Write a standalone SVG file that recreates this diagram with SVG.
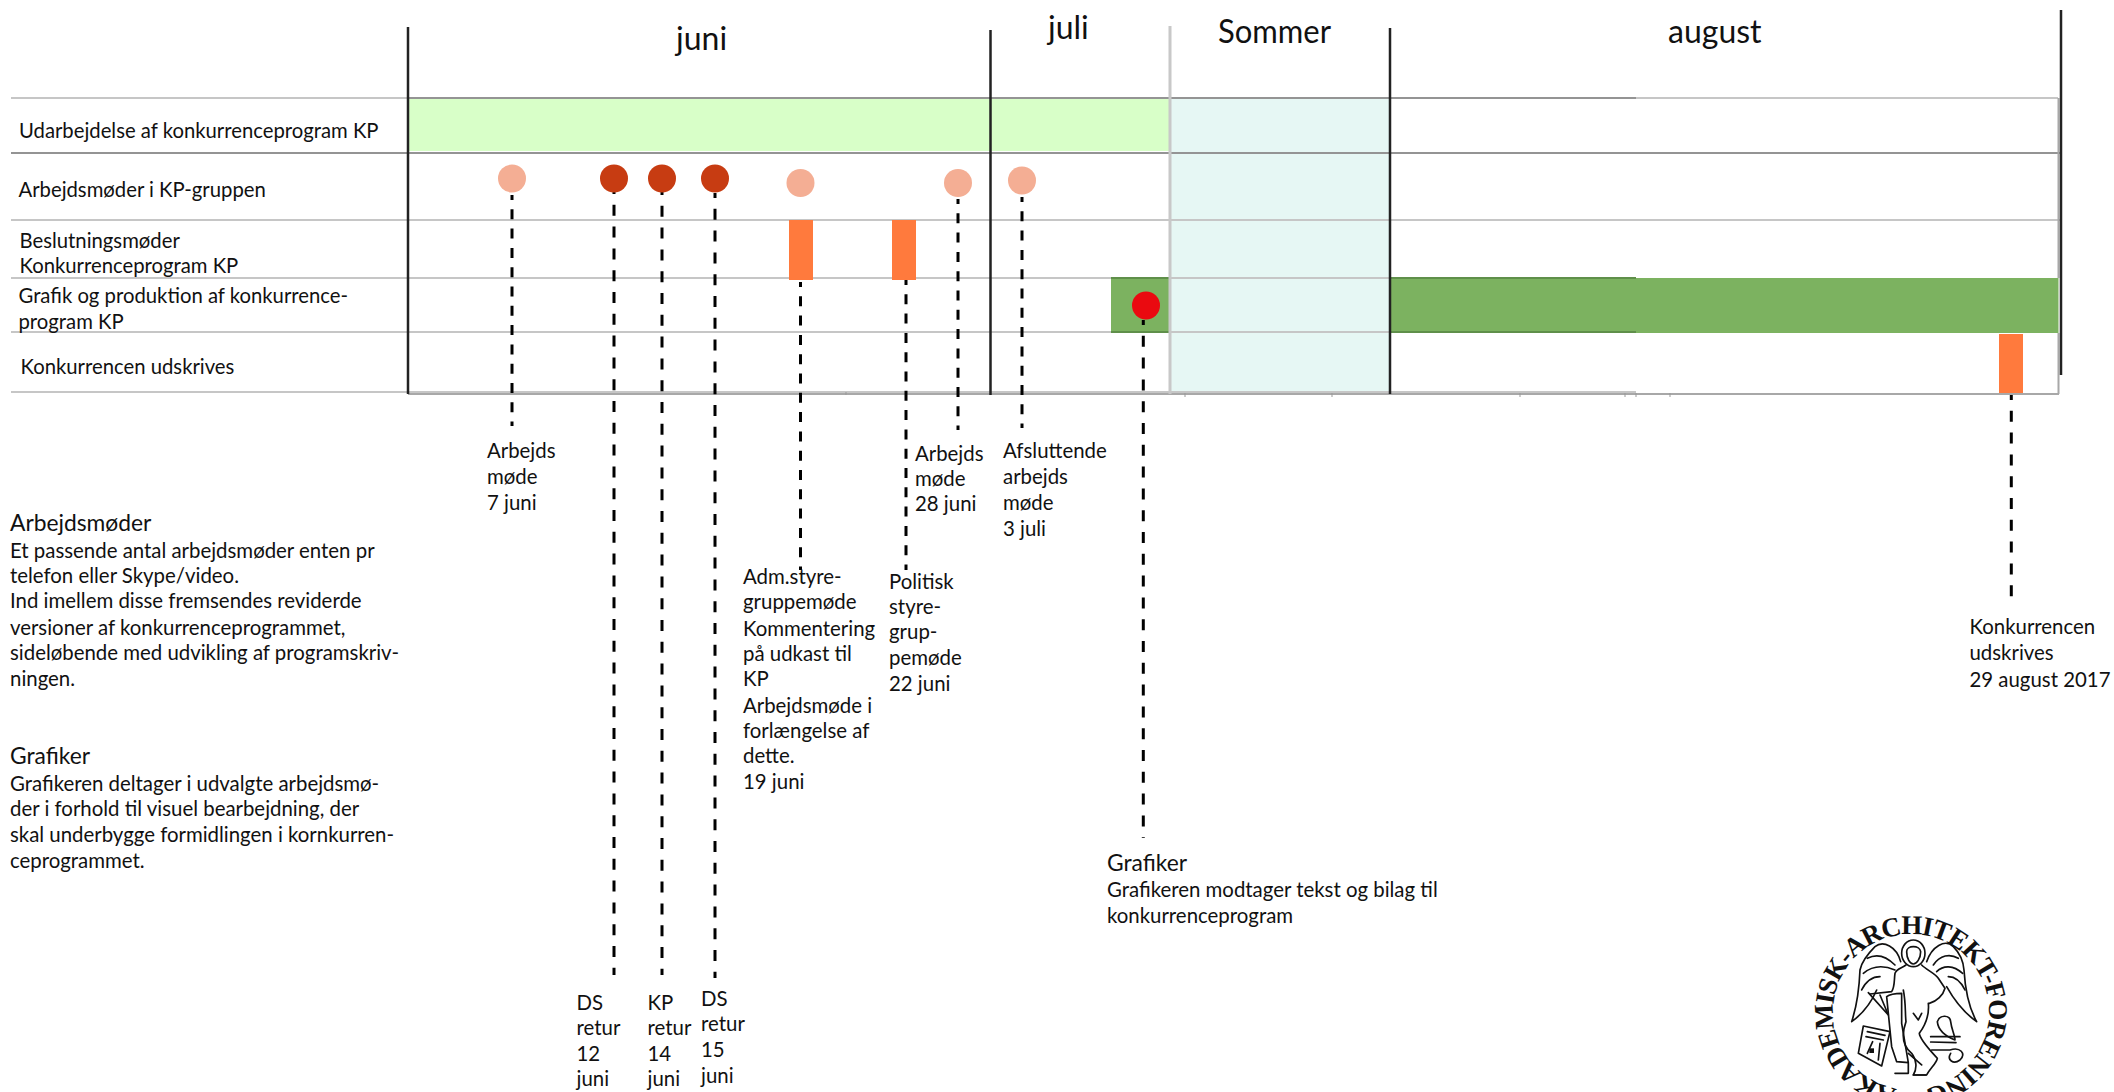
<svg xmlns="http://www.w3.org/2000/svg" width="2114" height="1092" viewBox="0 0 2114 1092">
<style>
text{font-family:"Lato","Noto Sans",sans-serif;fill:#111}
.month{font-size:32px}
.row{font-size:20.3px}
.b{font-size:20.4px}
.h{font-size:22.8px}
.hd{stroke:#949494;stroke-width:2;fill:none}
.hl{stroke:#c6c6c6;stroke-width:2;fill:none}
.v{stroke:#222;stroke-width:2.5;fill:none}
.dash{stroke:#000;stroke-width:3;stroke-dasharray:11 10.8;stroke-dashoffset:6;fill:none}
.dsh{stroke:#000;stroke-width:3;stroke-dasharray:10 9.3;stroke-dashoffset:5;fill:none}
.lt{fill:#f4ae94}.dk{fill:#c73c12}.or{fill:#ff7a3d}
.lg{fill:none;stroke:#111;stroke-width:5;stroke-linejoin:round;stroke-linecap:round}
</style>
<rect width="2114" height="1092" fill="#fff"/>
<g id="bars">
<rect x="408" y="98" width="762" height="53" fill="#d8ffc8"/>
<rect x="1170" y="98" width="220" height="295" fill="#e6f7f4"/>
<rect x="1111" y="278" width="59" height="54" fill="#7cb260"/>
<rect x="1390" y="278" width="668.500" height="55" fill="#7cb260"/>
</g>
<g id="grid">
<path class="hd" d="M408 98H1636M11 153H2060"/>
<path class="hl" d="M11 98H408M1636 98H2058M11 220H2060M11 278H1111M1170 278H1390M11 332H1111M1170 332H1390M11 392H1636"/>
<path d="M1111 278H1170M1390 278H1636M1111 332H1170M1390 332H1636" stroke="#5f8f4a" stroke-width="2" fill="none"/>
<path d="M408 394H2059M2058.500 98V278M2058.500 333V394" stroke="#a8a8a8" stroke-width="2" fill="none"/>
<path d="M846 392V395M1185 393V397M1332 393V397M1520 393V397M1625 393V397M1636 393V397M1670 393V397" stroke="#999" stroke-width="1" fill="none"/>
<path d="M1170 26V394" stroke="#c8c8c8" stroke-width="3" fill="none"/>
<path class="v" d="M408 27V394M990.500 30V395M1390 28V394M2061 10V375"/>
</g>
<g id="connectors">
<path class="dsh" d="M512 195V426"/>
<path class="dash" d="M614 189V975"/>
<path class="dash" d="M662 190V975"/>
<path class="dash" d="M715 193V978"/>
<path class="dsh" d="M800.500 282V570"/>
<path class="dsh" d="M906 280V570"/>
<path class="dsh" d="M958 199V430"/>
<path class="dsh" d="M1022 197V428"/>
<path class="dash" d="M1143.300 320V838"/>
<path class="dash" d="M2011.300 395V597"/>
</g>
<g id="months">
<text class="month" x="676" y="50">juni</text>
<text class="month" x="1048" y="39">juli</text>
<text class="month" x="1218" y="43" textLength="113" lengthAdjust="spacingAndGlyphs">Sommer</text>
<text class="month" x="1668" y="43">august</text>
</g>
<g id="row-labels">
<text class="row" x="19" y="138">Udarbejdelse af konkurrenceprogram KP</text>
<text class="row" x="18.500" y="197">Arbejdsmøder i KP-gruppen</text>
<text class="row" x="19.500" y="248">Beslutningsmøder</text>
<text class="row" x="19.500" y="273">Konkurrenceprogram KP</text>
<text class="row" x="18.500" y="303">Grafik og produktion af konkurrence-</text>
<text class="row" x="18.500" y="329">program KP</text>
<text class="row" x="20.500" y="374">Konkurrencen udskrives</text>
</g>
<g id="meeting-7-juni"><circle class="lt" cx="512" cy="178.500" r="14"/><text class="b"><tspan x="487" y="458">Arbejds</tspan><tspan x="487" y="484">møde</tspan><tspan x="487" y="510">7 juni</tspan></text></g>
<g id="ds-12-juni"><circle class="dk" cx="614" cy="178.500" r="14"/><text class="b"><tspan x="576.500" y="1010">DS</tspan><tspan x="576.500" y="1035">retur</tspan><tspan x="576.500" y="1061">12</tspan><tspan x="576.500" y="1086">juni</tspan></text></g>
<g id="kp-14-juni"><circle class="dk" cx="662" cy="178.500" r="14"/><text class="b"><tspan x="647.500" y="1010">KP</tspan><tspan x="647.500" y="1035">retur</tspan><tspan x="647.500" y="1061">14</tspan><tspan x="647.500" y="1086">juni</tspan></text></g>
<g id="ds-15-juni"><circle class="dk" cx="715" cy="178.500" r="14"/><text class="b"><tspan x="701" y="1006">DS</tspan><tspan x="701" y="1031">retur</tspan><tspan x="701" y="1057">15</tspan><tspan x="701" y="1083">juni</tspan></text></g>
<g id="adm-19-juni"><circle class="lt" cx="800.500" cy="183" r="14"/><rect class="or" x="789" y="220" width="24" height="60"/><text class="b"><tspan x="743" y="584">Adm.styre-</tspan><tspan x="743" y="609">gruppemøde</tspan><tspan x="743" y="636">Kommentering</tspan><tspan x="743" y="661">på udkast til</tspan><tspan x="743" y="686">KP</tspan><tspan x="743" y="713">Arbejdsmøde i</tspan><tspan x="743" y="738">forlængelse af</tspan><tspan x="743" y="763">dette.</tspan><tspan x="743" y="789">19 juni</tspan></text></g>
<g id="politisk-22-juni"><rect class="or" x="892" y="220" width="24" height="60"/><text class="b"><tspan x="889" y="589">Politisk</tspan><tspan x="889" y="614">styre-</tspan><tspan x="889" y="639">grup-</tspan><tspan x="889" y="665">pemøde</tspan><tspan x="889" y="691">22 juni</tspan></text></g>
<g id="meeting-28-juni"><circle class="lt" cx="958" cy="183" r="14"/><text class="b"><tspan x="915" y="461">Arbejds</tspan><tspan x="915" y="486">møde</tspan><tspan x="915" y="511">28 juni</tspan></text></g>
<g id="meeting-3-juli"><circle class="lt" cx="1022" cy="180.500" r="14"/><text class="b"><tspan x="1003" y="458">Afsluttende</tspan><tspan x="1003" y="484">arbejds</tspan><tspan x="1003" y="510">møde</tspan><tspan x="1003" y="536">3 juli</tspan></text></g>
<g id="grafiker-note"><circle cx="1146" cy="305.500" r="14" fill="#ea0a10"/><text class="h" x="1107" y="871">Grafiker</text><text class="b"><tspan x="1107" y="897">Grafikeren modtager tekst og bilag til</tspan><tspan x="1107" y="923">konkurrenceprogram</tspan></text></g>
<g id="udskrives-29-august"><rect class="or" x="1999" y="334" width="24" height="59"/><text class="b"><tspan x="1969.500" y="634">Konkurrencen</tspan><tspan x="1969.500" y="660">udskrives</tspan><tspan x="1969.500" y="687">29 august 2017</tspan></text></g>
<g id="arbejdsmoeder-text"><text class="h" x="10" y="531">Arbejdsmøder</text><text class="b"><tspan x="10" y="558">Et passende antal arbejdsmøder enten pr</tspan><tspan x="10" y="583">telefon eller Skype/video.</tspan><tspan x="10" y="608">Ind imellem disse fremsendes reviderde</tspan><tspan x="10" y="635">versioner af konkurrenceprogrammet,</tspan><tspan x="10" y="660">sideløbende med udvikling af programskriv-</tspan><tspan x="10" y="686">ningen.</tspan></text></g>
<g id="grafiker-text"><text class="h" x="10" y="764">Grafiker</text><text class="b"><tspan x="10" y="791">Grafikeren deltager i udvalgte arbejdsmø-</tspan><tspan x="10" y="816">der i forhold til visuel bearbejdning,  der</tspan><tspan x="10" y="842">skal underbygge formidlingen i kornkurren-</tspan><tspan x="10" y="868">ceprogrammet.</tspan></text></g>
<g id="logo">
<defs><path id="ring" d="M1911 1090A78 78 0 0 1 1911 934A78 78 0 0 1 1911 1090"/></defs>
<text style="font-family:'Liberation Serif',serif;font-size:27px;font-weight:bold"><textPath href="#ring" startOffset="14" textLength="462">AKADEMISK-ARCHITEKT-FORENING</textPath></text>
<g transform="translate(1780 890) scale(.3333)">
<ellipse class="lg" cx="400" cy="190" rx="35" ry="40"/>
<path class="lg" d="M380 185C380 165 420 165 422 185C422 205 410 222 400 222C390 222 380 205 380 185Z"/>
<path class="lg" d="M362 215C350 170 310 150 285 170C265 190 245 215 240 240C238 290 230 350 215 395C250 370 275 335 290 300"/>
<path class="lg" d="M262 205C290 190 320 200 345 225M250 250C280 225 310 225 345 240M245 300C260 270 280 260 300 260"/>
<path class="lg" d="M440 215C455 170 495 145 520 170C540 190 550 215 552 240C555 290 565 350 590 395C555 370 525 335 500 290"/>
<path class="lg" d="M535 205C510 190 480 195 460 225M548 250C520 225 490 225 470 245M555 300C540 270 520 260 505 260"/>
<path class="lg" d="M378 225C365 235 350 235 345 250C342 270 345 290 335 305L270 312"/>
<path class="lg" d="M425 225C440 240 465 250 475 265L495 295C490 315 470 335 448 340"/>
<path class="lg" d="M265 308L325 375L300 315"/>
<path class="lg" d="M320 320L335 470L350 515L385 518L365 400L365 310C340 310 330 312 320 320Z"/>
<path class="lg" d="M370 300C378 340 375 370 378 395C362 440 370 470 395 490C410 510 412 535 400 555L440 555C450 535 470 520 472 505C450 480 420 450 418 430C440 400 448 370 445 340"/>
<path class="lg" d="M400 370L415 390L425 370M400 555H438M385 490L425 525"/>
<path class="lg" d="M250 408L330 425L305 528L235 490Z"/>
<path class="lg" d="M262 425L315 436M258 440L310 450M278 455L262 490M300 460L295 510"/>
<rect x="268" y="475" width="14" height="14" fill="#111"/>
<path class="lg" d="M345 550H385V520"/>
<path class="lg" d="M472 395C480 372 510 375 512 395C515 420 525 435 525 450C500 440 475 425 472 395Z"/>
<path class="lg" d="M452 440H540M452 456L528 458M455 480H510C540 470 560 490 540 510C520 525 500 510 512 490"/>
</g>
</g>
</svg>
